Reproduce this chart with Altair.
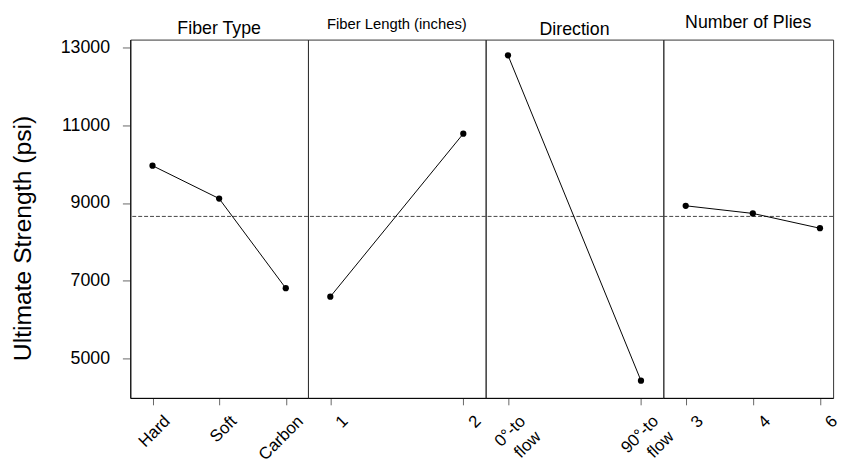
import altair as alt
import pandas as pd

# ---- data ----
fiber_type_levels = ["Hard", "Soft", "Carbon"]
fiber_type_means = [9963, 9115, 6804]
fiber_length_levels = ["1", "2"]
fiber_length_means = [6585, 10789]
direction_levels = ["0°-to\nflow", "90°-to\nflow"]
direction_means = [12809, 4419]
plies_levels = ["3", "4", "6"]
plies_means = [8929, 8732, 8350]
grand_mean = 8655

panel_titles = ["Fiber Type", "Fiber Length (inches)", "Direction", "Number of Plies"]
y_ticks = [5000, 7000, 9000, 11000, 13000]
y_domain = [3975, 13215]

FONT = "Liberation Sans, Arial, Helvetica, sans-serif"
PLOT_H = 363


def panel(levels, means, title, title_size, title_offset, width, pad, align, show_y):
    df = pd.DataFrame({"level": levels, "mean": means})
    ref_df = pd.DataFrame({"grand_mean": [grand_mean]})
    x = alt.X(
        "level:N",
        sort=levels,
        scale=alt.Scale(type="point", padding=pad, align=align),
        axis=alt.Axis(
            title=None,
            labelAngle=315,
            labelAlign="right",
            labelBaseline="top",
            labelExpr="split(datum.label, '\\n')",
            labelFontSize=17,
            labelLineHeight=22,
            labelPadding=8,
            labelOffset=9,
            tickSize=7,
            labelOverlap=False,
        ),
    )
    yscale = alt.Scale(domain=y_domain, nice=False, zero=False)
    if show_y:
        yaxis = alt.Axis(
            values=y_ticks,
            format="d",
            title="Ultimate Strength (psi)",
            grid=False,
            tickSize=8,
            labelPadding=13,
            labelFontSize=18,
            titleFontSize=25,
            titleFontWeight="normal",
            titlePadding=25,
            titleY=201,
        )
    else:
        yaxis = None
    y = alt.Y("mean:Q", scale=yscale, axis=yaxis)
    y_ref = alt.Y("grand_mean:Q", scale=yscale, axis=yaxis)

    ref = alt.Chart(ref_df).mark_rule(
        color="#444", strokeWidth=1, strokeDash=[4, 2]
    ).encode(y=y_ref)
    line = alt.Chart(df).mark_line(color="black", strokeWidth=1).encode(x=x, y=y)
    pts = alt.Chart(df).mark_circle(color="black", size=40, opacity=1).encode(x=x, y=y)
    return alt.layer(ref, line, pts).properties(
        width=width,
        height=PLOT_H,
        title=alt.TitleParams(
            text=title,
            fontSize=title_size,
            fontWeight="normal",
            font=FONT,
            anchor="middle",
            offset=title_offset,
            color="black",
        ),
    )


p1 = panel(fiber_type_levels, fiber_type_means, panel_titles[0], 18, 1, 180, 1 / 3, 0.5, True)
p2 = panel(fiber_length_levels, fiber_length_means, panel_titles[1], 15, 8, 180, 0.168, 0.5, False)
p3 = panel(direction_levels, direction_means, panel_titles[2], 18, 1, 180, 0.168, 0.5, False)
p4 = panel(plies_levels, plies_means, panel_titles[3], 18, 8, 172, 0.2647, 0.63, False)

chart = (
    alt.hconcat(p1, p2, p3, p4, spacing=0, bounds="flush")
    .resolve_scale(x="independent", y="independent")
    .properties(padding={"left": 10, "top": 10, "right": 0, "bottom": 0})
    .configure_view(stroke="#333", strokeWidth=1)
    .configure_axis(
        domainColor="black",
        tickColor="#666",
        labelColor="black",
        titleColor="black",
        labelFont=FONT,
        titleFont=FONT,
    )
)

chart.save("out.html", embed_options={"renderer": "svg", "actions": False})
